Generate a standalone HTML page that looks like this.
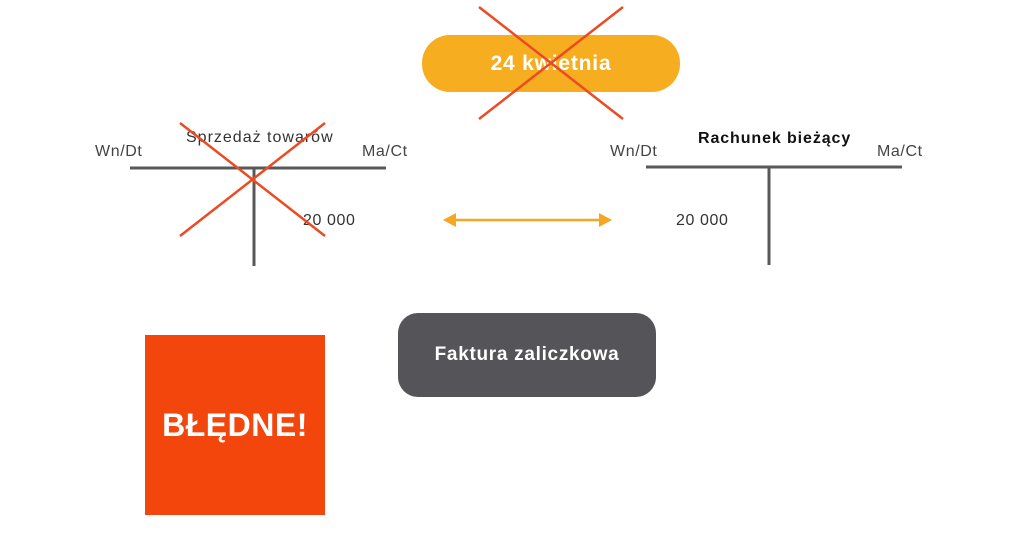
<!DOCTYPE html>
<html><head><style>
body{margin:0;width:1024px;height:549px;background:#fff;position:relative;overflow:hidden;font-family:"Liberation Sans",sans-serif;}
.a{position:absolute;}
.t{font-size:16px;letter-spacing:0.6px;}
</style></head><body>
<div class="a" style="left:422px;top:35px;width:258px;height:57px;border-radius:28px;background:#F6AD1F;color:#fff;font-weight:bold;font-size:21px;letter-spacing:0.8px;line-height:57px;text-align:center;">24 kwietnia</div>
<div class="a t" style="left:186px;top:129px;color:#333;letter-spacing:1px;">Sprzedaż towarów</div>
<div class="a t" style="left:95px;top:143px;color:#444;">Wn/Dt</div>
<div class="a t" style="left:362px;top:143px;color:#444;">Ma/Ct</div>
<div class="a t" style="left:303px;top:212px;color:#333;">20 000</div>
<div class="a" style="left:698px;top:130px;font-size:16px;letter-spacing:0.9px;font-weight:bold;color:#111;">Rachunek bieżący</div>
<div class="a t" style="left:610px;top:143px;color:#444;">Wn/Dt</div>
<div class="a t" style="left:877px;top:143px;color:#444;">Ma/Ct</div>
<div class="a t" style="left:676px;top:212px;color:#333;">20 000</div>
<div class="a" style="left:398px;top:313px;width:258px;height:84px;border-radius:20px;background:#555559;color:#fff;font-weight:bold;font-size:19px;letter-spacing:0.7px;line-height:84px;text-align:center;">Faktura zaliczkowa</div>
<div class="a" style="left:145px;top:335px;width:180px;height:180px;background:#F2460C;color:#fff;font-weight:bold;font-size:32px;letter-spacing:0.5px;line-height:180px;text-align:center;">BŁĘDNE!</div>
<svg class="a" style="left:0;top:0" width="1024" height="549">
<g stroke="#58585a" stroke-width="3">
<line x1="130" y1="168" x2="386" y2="168"/><line x1="254" y1="168" x2="254" y2="266"/>
<line x1="646" y1="167" x2="902" y2="167"/><line x1="769" y1="167" x2="769" y2="265"/>
</g>
<g stroke="#EE4A22" stroke-width="2.5">
<line x1="479" y1="7" x2="623" y2="119"/><line x1="623" y1="7" x2="479" y2="119"/>
<line x1="180" y1="123" x2="325" y2="236"/><line x1="325" y1="123" x2="180" y2="236"/>
</g>
<line x1="452" y1="220" x2="602" y2="220" stroke="#F5A623" stroke-width="2.5"/>
<polygon points="443,220 456,213 456,227" fill="#F5A623"/>
<polygon points="612,220 599,213 599,227" fill="#F5A623"/>
</svg>
</body></html>
